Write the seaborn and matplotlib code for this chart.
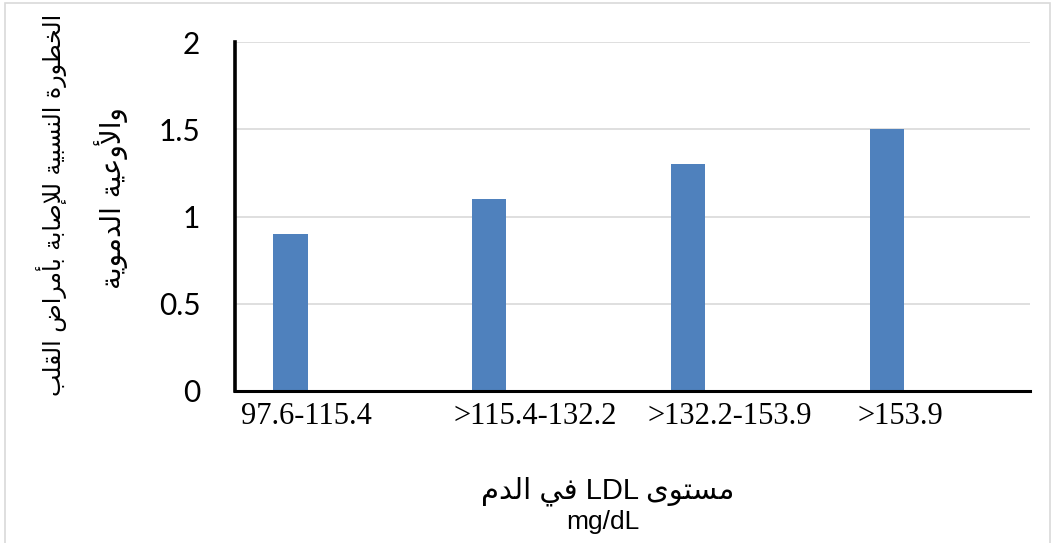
import numpy as np
import pandas as pd
import seaborn as sns
import matplotlib.pyplot as plt
from matplotlib.patches import Rectangle

# data
categories = ["97.6-115.4", ">115.4-132.2", ">132.2-153.9", ">153.9"]
relative_risk = [0.9, 1.1, 1.3, 1.5]
y_ticks = [0, 0.5, 1, 1.5, 2]
y_tick_labels = ["0", "0.5", "1", "1.5", "2"]
x_title = ["مستوى LDL في الدم", "mg/dL"]
y_title = ["الخطورة النسبية للإصابة بأمراض القلب", "والأوعية الدموية"]

# matplotlib has no arabic shaping, so pick the presentation forms by hand
# (isolated, final, initial, medial)
AR_FORMS = {
    'ا': (0xFE8D, 0xFE8E, None, None),
    'أ': (0xFE83, 0xFE84, None, None),
    'إ': (0xFE87, 0xFE88, None, None),
    'ب': (0xFE8F, 0xFE90, 0xFE91, 0xFE92),
    'ة': (0xFE93, 0xFE94, None, None),
    'ت': (0xFE95, 0xFE96, 0xFE97, 0xFE98),
    'خ': (0xFEA5, 0xFEA6, 0xFEA7, 0xFEA8),
    'د': (0xFEA9, 0xFEAA, None, None),
    'ر': (0xFEAD, 0xFEAE, None, None),
    'س': (0xFEB1, 0xFEB2, 0xFEB3, 0xFEB4),
    'ص': (0xFEB9, 0xFEBA, 0xFEBB, 0xFEBC),
    'ض': (0xFEBD, 0xFEBE, 0xFEBF, 0xFEC0),
    'ط': (0xFEC1, 0xFEC2, 0xFEC3, 0xFEC4),
    'ع': (0xFEC9, 0xFECA, 0xFECB, 0xFECC),
    'ف': (0xFED1, 0xFED2, 0xFED3, 0xFED4),
    'ق': (0xFED5, 0xFED6, 0xFED7, 0xFED8),
    'ل': (0xFEDD, 0xFEDE, 0xFEDF, 0xFEE0),
    'م': (0xFEE1, 0xFEE2, 0xFEE3, 0xFEE4),
    'ن': (0xFEE5, 0xFEE6, 0xFEE7, 0xFEE8),
    'و': (0xFEED, 0xFEEE, None, None),
    'ى': (0xFEEF, 0xFEF0, None, None),
    'ي': (0xFEF1, 0xFEF2, 0xFEF3, 0xFEF4),
}
LAM_ALEF = {'ا': (0xFEFB, 0xFEFC), 'أ': (0xFEF7, 0xFEF8), 'إ': (0xFEF9, 0xFEFA)}


def shape_word(word):
    letters = []
    i = 0
    while i < len(word):
        if word[i] == 'ل' and i + 1 < len(word) and word[i + 1] in LAM_ALEF:
            letters.append(('LA', word[i + 1]))
            i += 2
        else:
            letters.append(word[i])
            i += 1

    def joins_forward(c):
        return isinstance(c, str) and AR_FORMS[c][2] is not None

    out = []
    for k, c in enumerate(letters):
        join_prev = k > 0 and joins_forward(letters[k - 1])
        if isinstance(c, tuple):
            iso, fin = LAM_ALEF[c[1]]
            out.append(chr(fin if join_prev else iso))
            continue
        iso, fin, ini, med = AR_FORMS[c]
        join_next = ini is not None and k + 1 < len(letters)
        if join_prev and join_next:
            out.append(chr(med))
        elif join_prev:
            out.append(chr(fin))
        elif join_next:
            out.append(chr(ini))
        else:
            out.append(chr(iso))
    return ''.join(reversed(out))


def rtl(line):
    words = []
    for w in line.split(' '):
        if any(ch in AR_FORMS for ch in w):
            words.append(shape_word(w))
        else:
            words.append(w)
    return ' '.join(reversed(words))


df = pd.DataFrame({"band": categories, "rr": relative_risk})

fig = plt.figure(figsize=(10.55, 5.43), dpi=100)
ax = fig.add_axes([235 / 1055, 152 / 543, 795 / 1055, 349 / 543])

sns.barplot(data=df, x="band", y="rr", order=categories, color="#4F81BD",
            saturation=1, width=0.1726, errorbar=None, ax=ax)
# excel-style: bar sits left of the category centre
for bar in ax.patches:
    bar.set_x(bar.get_x() - 0.221)
    bar.set_edgecolor("none")

ax.set_xlim(-0.5, 3.5)
ax.set_ylim(0, 2)
ax.set_yticks(y_ticks)
ax.set_yticklabels(y_tick_labels, fontsize=21.5, family="Lato")
label_shift = [-0.14, 0.01, -0.01, -0.15]
ax.set_xticks(np.arange(len(categories)) + np.array(label_shift))
ax.set_xticklabels(categories, fontsize=22, family="Liberation Serif")
ax.tick_params(axis="y", length=0, pad=25)
ax.tick_params(axis="x", length=0, pad=8)
ax.set_xlabel("")
ax.set_ylabel("")

ax.set_axisbelow(True)
ax.yaxis.grid(True, color="#d9d9d9", linewidth=1.2)
ax.xaxis.grid(False)
for side in ["top", "right"]:
    ax.spines[side].set_visible(False)
ax.spines["left"].set_linewidth(2.6)
ax.spines["bottom"].set_linewidth(2.2)
ax.spines["left"].set_color("black")
ax.spines["bottom"].set_color("black")

# x title, two lines
fig.text(608 / 1055, 1 - 491 / 543, rtl(x_title[0]), ha="center", va="center",
         fontsize=21, family=["Liberation Sans", "DejaVu Sans"])
fig.text(603 / 1055, 1 - 522 / 543, x_title[1], ha="center", va="center",
         fontsize=19, family="Liberation Sans")
# y title, two rotated lines
fig.text(52 / 1055, 1 - 205 / 543, rtl(y_title[0]), rotation=90,
         ha="center", va="center", fontsize=17, family="DejaVu Sans")
fig.text(111 / 1055, 1 - 198 / 543, rtl(y_title[1]), rotation=90,
         ha="center", va="center", fontsize=20, family="DejaVu Sans")

fig.patches.append(Rectangle((5 / 1055, -0.05), 1045 / 1055, 1.045,
                             transform=fig.transFigure, fill=False,
                             edgecolor="#d9d9d9", linewidth=1.2))

fig.savefig("out.png", dpi=100)
